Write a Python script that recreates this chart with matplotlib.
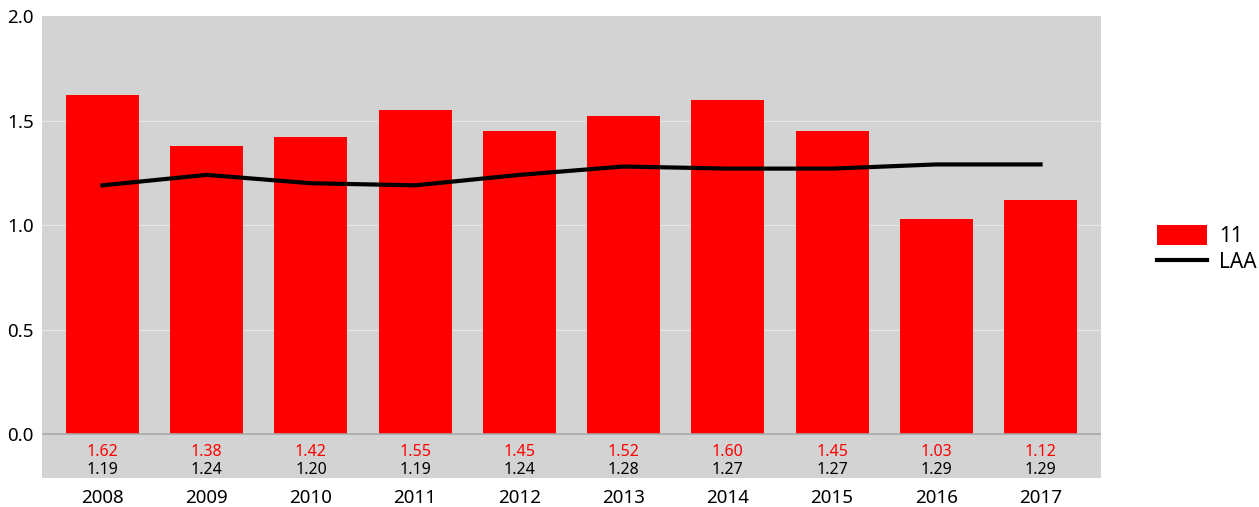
import numpy as np
import matplotlib.pyplot as plt
from matplotlib import rcParams

rcParams["font.family"] = ["Noto Sans", "DejaVu Sans"]

years = ["2008", "2009", "2010", "2011", "2012", "2013", "2014", "2015", "2016", "2017"]
val_11 = [1.62, 1.38, 1.42, 1.55, 1.45, 1.52, 1.60, 1.45, 1.03, 1.12]
val_laa = [1.19, 1.24, 1.20, 1.19, 1.24, 1.28, 1.27, 1.27, 1.29, 1.29]

fig = plt.figure(figsize=(12.59, 5.07), dpi=100)
ax = fig.add_axes([42/1259, 1-478/507, (1101-42)/1259, (478-16)/507])
ax.set_facecolor("#d3d3d3")

x = np.arange(len(years))
bars = ax.bar(x, val_11, width=0.7, color="red", label="11", zorder=3)
line, = ax.plot(x, val_laa, color="black", lw=3, label="LAA", zorder=4)

for xi, a, b in zip(x, val_11, val_laa):
    ax.text(xi, -0.085, "%.2f" % a, color="red", ha="center", va="center", fontsize=11.5)
    ax.text(xi, -0.172, "%.2f" % b, color="black", ha="center", va="center", fontsize=11.5)

ax.set_xlim(-0.58, 9.58)
ax.set_ylim(-0.21, 2.0)
ax.set_yticks([0, 0.5, 1.0, 1.5, 2.0])
ax.set_yticklabels(["0.0", "0.5", "1.0", "1.5", "2.0"])
ax.set_xticks(x)
ax.set_xticklabels(years)
ax.tick_params(length=0, labelsize=13.5, pad=6)
ax.tick_params(axis="x", pad=8)
for yv in [0.5, 1.0, 1.5]:
    ax.axhline(yv, color="#e8e8e8", lw=0.8, zorder=1)
ax.axhline(0, color="#a8a8a8", lw=1.2, zorder=5)
for s in ax.spines.values():
    s.set_visible(False)

ax.legend([bars, line], ["11", "LAA"], loc="center left", bbox_to_anchor=(1.035, 0.495),
          frameon=False, fontsize=15, handlelength=2.4, handleheight=1.1,
          labelspacing=0.2, handletextpad=0.6)

fig.savefig("out.png", dpi=100)
